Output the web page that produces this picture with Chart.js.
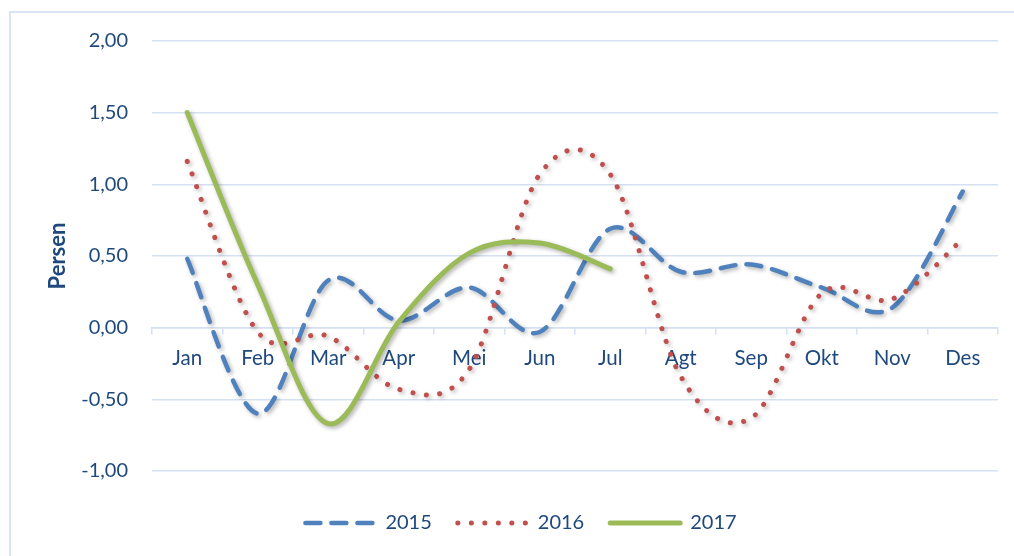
<!DOCTYPE html>
<html>
<head>
<meta charset="utf-8">
<script src="https://cdn.jsdelivr.net/npm/chart.js@4.4.1/dist/chart.umd.min.js"></script>
<style>
  html, body { margin: 0; padding: 0; background: #fff; overflow: hidden; }
  #frame { position: absolute; left: 9px; top: 11px; width: 1100px; height: 600px;
           border-left: 2px solid #dae3f3; border-top: 2px solid #dae3f3; }
  #chart { position: absolute; left: 0; top: 0; }
</style>
</head>
<body>
<div id="frame"></div>
<canvas id="chart" width="1014" height="556"></canvas>
<script>
(function(){
  'use strict';

  // Data
  const months = ['Jan', 'Feb', 'Mar', 'Apr', 'Mei', 'Jun', 'Jul', 'Agt', 'Sep', 'Okt', 'Nov', 'Des'];
  const data2015 = [0.48, -0.60, 0.33, 0.05, 0.28, -0.03, 0.69, 0.39, 0.44, 0.28, 0.14, 0.95];
  const data2016 = [1.16, -0.03, -0.06, -0.43, -0.29, 1.07, 1.07, -0.34, -0.63, 0.24, 0.20, 0.62];
  const data2017 = [1.50, 0.30, -0.67, 0.04, 0.52, 0.59, 0.41];
  const yTickValues = [-1, -0.5, 0, 0.5, 1, 1.5, 2];

  const TEXT = '#1f497d';
  const GRID = '#d5e0f1';
  const FONT = 'Lato, "Open Sans", sans-serif';

  const series = [
    { label: '2015', data: data2015, color: '#4f81bd', width: 4.5, dash: [15, 11] },
    { label: '2016', data: data2016, color: '#c0504d', width: 5, dash: [0.1, 13.4] },
    { label: '2017', data: data2017, color: '#9bbb59', width: 5, dash: [] }
  ];

  // Excel-like smoothing: control points at 1/6 of neighbour span, plus soft shadow
  const excelLines = {
    id: 'excelLines',
    beforeDatasetDraw(chart, args) {
      const line = args.meta.dataset;
      const pts = args.meta.data;
      if (line) {
        line.updateControlPoints(chart.chartArea, 'x');
        for (let i = 0; i < pts.length; i++) {
          const p = pts[i], prev = pts[i - 1] || p, next = pts[i + 1] || p;
          const dx = (next.x - prev.x) / 6, dy = (next.y - prev.y) / 6;
          p.cp1x = p.x - dx; p.cp1y = p.y - dy;
          p.cp2x = p.x + dx; p.cp2y = p.y + dy;
        }
        line._path = undefined;
      }
      const ctx = chart.ctx;
      ctx.save();
      ctx.shadowColor = 'rgba(0,0,0,0.3)';
      ctx.shadowBlur = 4;
      ctx.shadowOffsetX = 2;
      ctx.shadowOffsetY = 2;
    },
    afterDatasetDraw(chart) {
      chart.ctx.restore();
    }
  };

  const el = document.getElementById('chart');
  new Chart(el, {
    type: 'line',
    data: {
      labels: months,
      datasets: series.map((s, i) => ({
        label: s.label,
        data: s.data,
        borderColor: s.color,
        backgroundColor: s.color,
        borderWidth: s.width,
        borderDash: s.dash,
        borderCapStyle: 'round',
        borderJoinStyle: 'round',
        tension: 0.4,
        pointRadius: 0,
        pointHoverRadius: 0,
        fill: false,
        order: series.length - i
      }))
    },
    options: {
      responsive: false,
      animation: false,
      events: [],
      layout: { padding: { left: 44, right: 16, top: 41, bottom: 13 } },
      plugins: {
        tooltip: { enabled: false },
        legend: {
          position: 'bottom',
          maxHeight: 70,
          labels: {
            usePointStyle: true,
            pointStyleWidth: 70,
            padding: 26,
            color: TEXT,
            font: { family: FONT, size: 20 },
            generateLabels: () => series.map(s => ({
              text: s.label,
              pointStyle: 'line',
              strokeStyle: s.color,
              fillStyle: s.color,
              lineWidth: s.width,
              lineDash: s.dash,
              lineCap: 'round',
              fontColor: TEXT,
              hidden: false
            }))
          }
        }
      },
      scales: {
        x: {
          position: { y: 0 },
          offset: true,
          grid: { offset: true, drawOnChartArea: false, tickLength: 6, color: GRID, lineWidth: 1.5 },
          border: { display: true, color: GRID, width: 1.5 },
          ticks: { color: TEXT, font: { family: FONT, size: 20.5 }, padding: 12, maxRotation: 0, autoSkip: false }
        },
        // empty spacer between plot and legend
        gap: {
          type: 'category',
          position: 'bottom',
          afterFit: s => { s.height = 16; },
          grid: { display: false },
          border: { display: false },
          ticks: { display: false }
        },
        y: {
          min: yTickValues[0],
          max: yTickValues[yTickValues.length - 1],
          afterFit: s => { s.width = 108; },
          afterBuildTicks: s => { s.ticks = yTickValues.map(v => ({ value: v })); },
          grid: { drawTicks: false, color: GRID, lineWidth: 1.5 },
          border: { display: false },
          ticks: {
            color: TEXT,
            font: { family: FONT, size: 20 },
            padding: 24,
            callback: v => v.toFixed(2).replace('.', ',')
          },
          title: {
            display: true,
            text: 'Persen',
            color: TEXT,
            font: { family: FONT, size: 22, weight: 'bold' },
            padding: { top: 1, bottom: 0 }
          }
        }
      }
    },
    plugins: [excelLines]
  });
})();
</script>
</body>
</html>
